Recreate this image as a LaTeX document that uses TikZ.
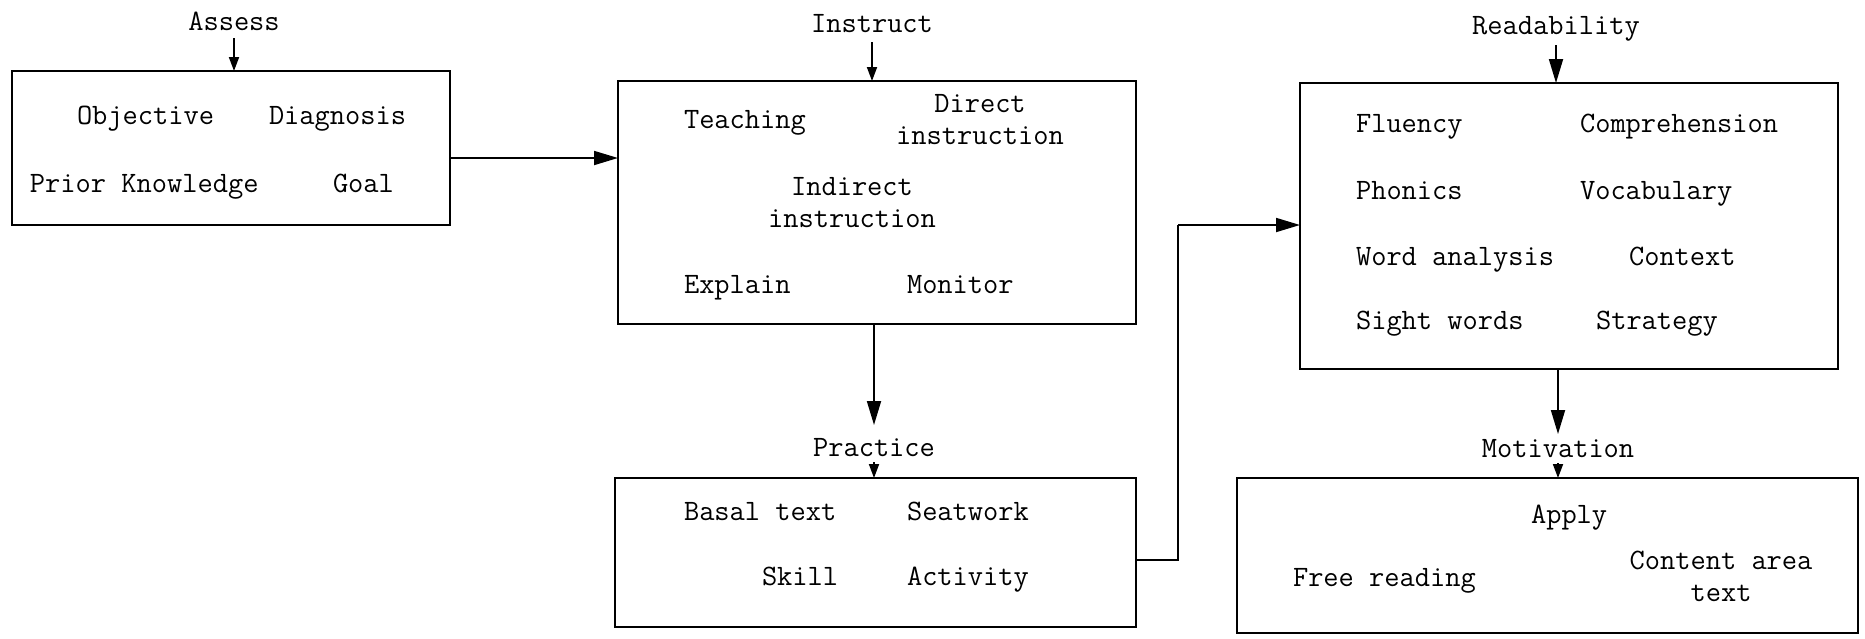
\documentclass[tikz,border=0pt]{standalone}
\usetikzlibrary{arrows.meta}
\begin{document}
\begin{tikzpicture}[x=0.5pt,y=-0.5pt,
  every node/.style={font=\ttfamily\fontsize{14.8pt}{16pt}\selectfont, inner sep=0pt, outer sep=0pt, text height=10pt, text depth=1pt},
  boxnode/.style={draw, line width=0.9pt, anchor=north west, text height=, text depth=},
  lbl/.style={anchor=center},
  itm/.style={anchor=west},
  ctr/.style={align=center, text height=, text depth=},
  conn/.style={line width=0.9pt, -{Triangle[length=12pt,width=7pt]}},
  small/.style={line width=0.9pt, -{Triangle[length=7pt,width=5pt]}}]
\useasboundingbox (0,0) rectangle (1865,638);
% boxes
\node[boxnode, minimum width=219pt, minimum height=77pt] (box1) at (12,71) {};
\node[boxnode, minimum width=259pt, minimum height=121.5pt] (box2) at (618,81) {};
\node[boxnode, minimum width=260.5pt, minimum height=74.5pt] (box3) at (615,478) {};
\node[boxnode, minimum width=269pt, minimum height=143pt] (box4) at (1300,83) {};
\node[boxnode, minimum width=310.5pt, minimum height=77.5pt] (box5) at (1237,478) {};
% labels
\node[lbl] (assess) at (234,21) {Assess};
\node[lbl] (instruct) at (872,23) {Instruct};
\node[lbl] (practice) at (874,447) {Practice};
\node[lbl] (readability) at (1556,25) {Readability};
\node[lbl] (motivation) at (1558,448) {Motivation};
% box1 items
\node[itm] (objective) at (77,115) {Objective};
\node[itm] (diagnosis) at (269,115) {Diagnosis};
\node[itm] (prior) at (30,183) {Prior Knowledge};
\node[itm] (goal) at (333,183) {Goal};
% box2 items
\node[itm] (teaching) at (684,119) {Teaching};
\node[ctr] (direct) at (980,120) {Direct\\instruction};
\node[ctr] (indirect) at (852,203) {Indirect\\instruction};
\node[itm] (explain) at (684,284) {Explain};
\node[itm] (monitor) at (907,284) {Monitor};
% box3 items
\node[itm] (basal) at (684,511) {Basal text};
\node[itm] (seatwork) at (907,511) {Seatwork};
\node[itm] (skill) at (762,576) {Skill};
\node[itm] (activity) at (907,576) {Activity};
% box4 items
\node[itm] (fluency) at (1356,123) {Fluency};
\node[itm] (compre) at (1580,123) {Comprehension};
\node[itm] (phonics) at (1356,190) {Phonics};
\node[itm] (vocab) at (1580,190) {Vocabulary};
\node[itm] (wordan) at (1356,256) {Word analysis};
\node[itm] (context) at (1629,256) {Context};
\node[itm] (sight) at (1356,320) {Sight words};
\node[itm] (strategy) at (1596,320) {Strategy};
% box5 items
\node[itm] (apply) at (1531,514) {Apply};
\node[itm] (free) at (1293,577) {Free reading};
\node[ctr] (content) at (1721,576) {Content area\\text};
% connectors
\coordinate (elbow) at (1178,225);
\draw[small] (assess.south |- 0,38) -- (assess.south |- box1.north);
\draw[small] (instruct.south |- 0,42) -- (instruct.south |- box2.north);
\draw[conn] (readability.south |- 0,45) -- (readability.south |- box4.north);
\draw[conn] (box1.east |- 0,158) -- (box2.west |- 0,158);
\draw[conn] (practice.north |- box2.south) -- (practice.north |- 0,425);
\draw[small] (practice.south |- 0,462) -- (practice.south |- box3.north);
\draw[line width=0.9pt] (box3.east |- 0,560) -| (elbow);
\draw[conn] (elbow) -- (box4.west |- elbow);
\draw[conn] (motivation.north |- box4.south) -- (motivation.north |- 0,434);
\draw[small] (motivation.south |- 0,463) -- (motivation.south |- box5.north);
\end{tikzpicture}
\end{document}
